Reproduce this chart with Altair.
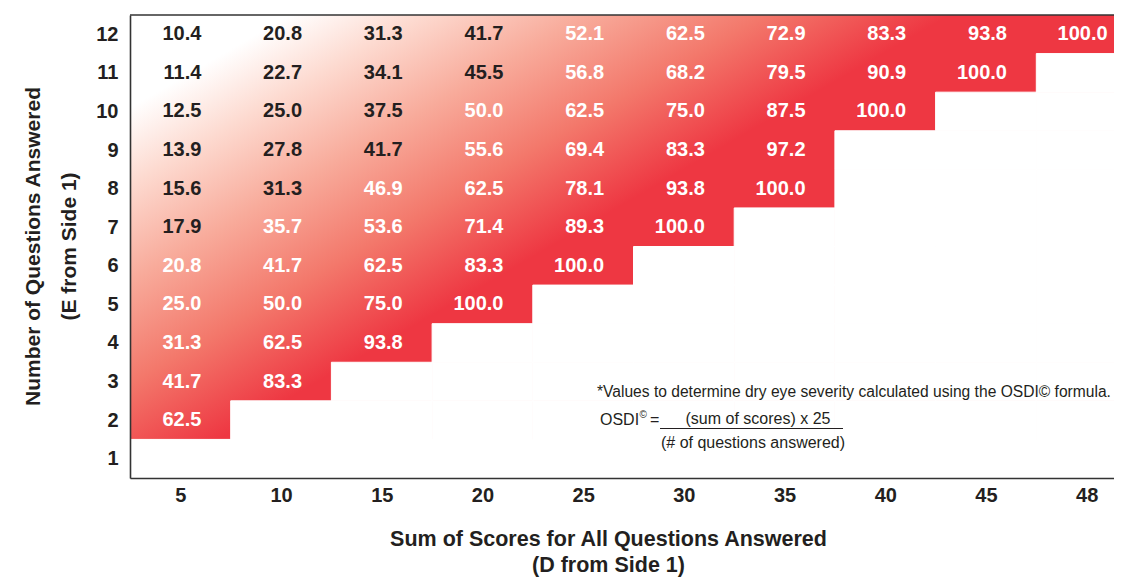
import altair as alt
import pandas as pd

# ---------------- data ----------------
sums = ["5", "10", "15", "20", "25", "30", "35", "40", "45", "48"]
questions = [12, 11, 10, 9, 8, 7, 6, 5, 4, 3, 2, 1]

row12 = [10.4, 20.8, 31.3, 41.7, 52.1, 62.5, 72.9, 83.3, 93.8, 100.0]
row11 = [11.4, 22.7, 34.1, 45.5, 56.8, 68.2, 79.5, 90.9, 100.0]
row10 = [12.5, 25.0, 37.5, 50.0, 62.5, 75.0, 87.5, 100.0]
row9 = [13.9, 27.8, 41.7, 55.6, 69.4, 83.3, 97.2]
row8 = [15.6, 31.3, 46.9, 62.5, 78.1, 93.8, 100.0]
row7 = [17.9, 35.7, 53.6, 71.4, 89.3, 100.0]
row6 = [20.8, 41.7, 62.5, 83.3, 100.0]
row5 = [25.0, 50.0, 75.0, 100.0]
row4 = [31.3, 62.5, 93.8]
row3 = [41.7, 83.3]
row2 = [62.5]
row1 = []
values_by_row = [row12, row11, row10, row9, row8, row7, row6, row5, row4, row3, row2, row1]

x_title = ["Sum of Scores for All Questions Answered", "(D from Side 1)"]
y_title = ["Number of Questions Answered", "(E from Side 1)"]
note = "*Values to determine dry eye severity calculated using the OSDI\u00a9 formula."
numerator = "(sum of scores) x 25"
denominator = "(# of questions answered)"

records, empty = [], []
for q, vals in zip(questions, values_by_row):
    for ci in range(len(sums)):
        if ci < len(vals):
            records.append({"q": q, "ci": ci, "score": vals[ci]})
        else:
            empty.append({"q": q, "ci": ci})
cells = pd.DataFrame(records)
blank = pd.DataFrame(empty)

# ---------------- style ----------------
FONT = "'Liberation Sans', Arial, sans-serif"
DARK = "#231f20"
RED = "#ee3742"
LINE = "#333333"
LEFT, TOP = 130, 15          # page position of plot area
SVG_W, SVG_H = 1106, 569
W, H = SVG_W - (LEFT - 8), 463
NCOL, NROW = len(sums), len(questions)
CELL_W = 100.7
XMAX = W / CELL_W            # last column runs past the visible edge

# diagonal background gradient (isolines k*x + y = c in page pixels)
k, c_white, c_red = 0.58, 183.0, 566.0
gw, gh = NCOL * CELL_W, H * (NROW - 1) / NROW
dx_, dy_ = k * gw, gh
n2 = dx_ * dx_ + dy_ * dy_
cw = c_white - k * LEFT - TOP
cr = c_red - k * LEFT - TOP
x1, y1 = cw / n2 * dx_, cw / n2 * dy_
x2, y2 = cr / n2 * dx_, cr / n2 * dy_
grad = alt.LinearGradient(
    gradient="linear",
    stops=[
        alt.GradientStop(color="#ffffff", offset=0.0),
        alt.GradientStop(color="#fddad0", offset=0.2),
        alt.GradientStop(color="#f8ab9b", offset=0.45),
        alt.GradientStop(color="#f3786b", offset=0.72),
        alt.GradientStop(color=RED, offset=1.0),
    ],
    x1=x1, y1=y1, x2=x2, y2=y2,
)

xs = alt.Scale(domain=[0, XMAX], nice=False, zero=False)
ys = alt.Scale(domain=[0, NROW], nice=False, zero=False)

label_list = "[" + ",".join("'%s'" % s for s in sums) + "]"
x_axis = alt.Axis(
    values=[i + 0.5 for i in range(NCOL)],
    labelExpr=label_list + "[floor(datum.value)]",
    ticks=False, grid=False, zindex=2,
    domain=True, domainColor=LINE, domainWidth=1.6,
    labelFont=FONT, labelFontSize=20, labelFontWeight="bold", labelColor=DARK,
    labelPadding=7,
    title=x_title, titleFont=FONT, titleFontSize=21.5, titleFontWeight="bold",
    titleColor=DARK, titleLineHeight=26, titleX=608 - LEFT, titleY=545 - (TOP + H),
    titleBaseline="alphabetic", titleAlign="center",
)
y_axis = alt.Axis(
    values=[r + 0.5 for r in range(NROW)],
    labelExpr="format(floor(datum.value) + 1, 'd')",
    ticks=False, grid=False, zindex=2,
    domain=True, domainColor=LINE, domainWidth=1.6,
    labelFont=FONT, labelFontSize=20, labelFontWeight="bold", labelColor=DARK,
    labelPadding=12,
    title=y_title, titleFont=FONT, titleFontSize=21, titleFontWeight="bold",
    titleColor=DARK, titleLineHeight=36, titleX=39 - LEFT, titleY=246 - TOP,
    titleBaseline="alphabetic", titleAlign="center", titleAngle=270,
)

background = alt.Chart(pd.DataFrame({"a": [0]})).mark_rect(
    fill=grad, strokeWidth=0, clip=True
).encode(
    x=alt.X(datum=0, type="quantitative", scale=xs, axis=x_axis),
    x2=alt.X2(datum=NCOL),
    y=alt.Y(datum=1, type="quantitative", scale=ys, axis=y_axis),
    y2=alt.Y2(datum=NROW),
)

blanks = alt.Chart(blank).transform_calculate(
    ci2="datum.ci + 1", q0="datum.q - 1"
).mark_rect(fill="white", stroke="white", strokeWidth=1, clip=True).encode(
    x=alt.X("ci:Q", scale=xs, axis=x_axis),
    x2="ci2:Q",
    y=alt.Y("q0:Q", scale=ys, axis=y_axis),
    y2="q:Q",
)

top_line = alt.Chart(pd.DataFrame({"a": [0]})).mark_rule(
    color=LINE, strokeWidth=1.6
).encode(
    x=alt.value(0), x2=alt.value(W),
    y=alt.Y(datum=NROW, type="quantitative", scale=ys, axis=y_axis),
)

dark_counts = "[0,0,0,0,0,0,0,1,2,3,3,4,4]"
labels = alt.Chart(cells).transform_calculate(
    xc="datum.ci + 0.5", yc="datum.q - 0.5"
).mark_text(
    align="right", baseline="middle", dx=21, font=FONT, fontSize=20, fontWeight="bold"
).encode(
    x=alt.X("xc:Q", scale=xs, axis=x_axis),
    y=alt.Y("yc:Q", scale=ys, axis=y_axis),
    text=alt.Text("score:Q", format=".1f"),
    color=alt.condition("datum.ci < " + dark_counts + "[datum.q]",
                        alt.value(DARK), alt.value("white")),
)


def note_text(txt, px, py, size=16, align="left"):
    return alt.Chart(pd.DataFrame({"t": [txt]})).mark_text(
        align=align, baseline="alphabetic", font=FONT, fontSize=size, color=DARK
    ).encode(x=alt.value(px - LEFT), y=alt.value(py - TOP), text="t:N")


ann = [
    note_text(note, 597, 397, size=15.6),
    note_text("OSDI", 600, 425),
    note_text("\u00a9", 639.5, 418, size=10),
    note_text("=", 650, 425),
    note_text(numerator, 758, 424, align="center"),
    note_text(denominator, 753, 448, align="center"),
]
frac_line = alt.Chart(pd.DataFrame({"a": [0]})).mark_rule(color=DARK, strokeWidth=1.2).encode(
    x=alt.value(660 - LEFT), x2=alt.value(843 - LEFT), y=alt.value(428.5 - TOP)
)

chart = alt.layer(background, blanks, top_line, labels, frac_line, *ann).properties(
    width=W, height=H, autosize="none",
    padding={"left": LEFT - 8, "top": TOP - 8, "right": 0,
             "bottom": SVG_H - (TOP - 8) - H},
).configure_view(strokeWidth=0).configure(background="white")

chart.save("out.html", embed_options={"renderer": "svg", "actions": False})
